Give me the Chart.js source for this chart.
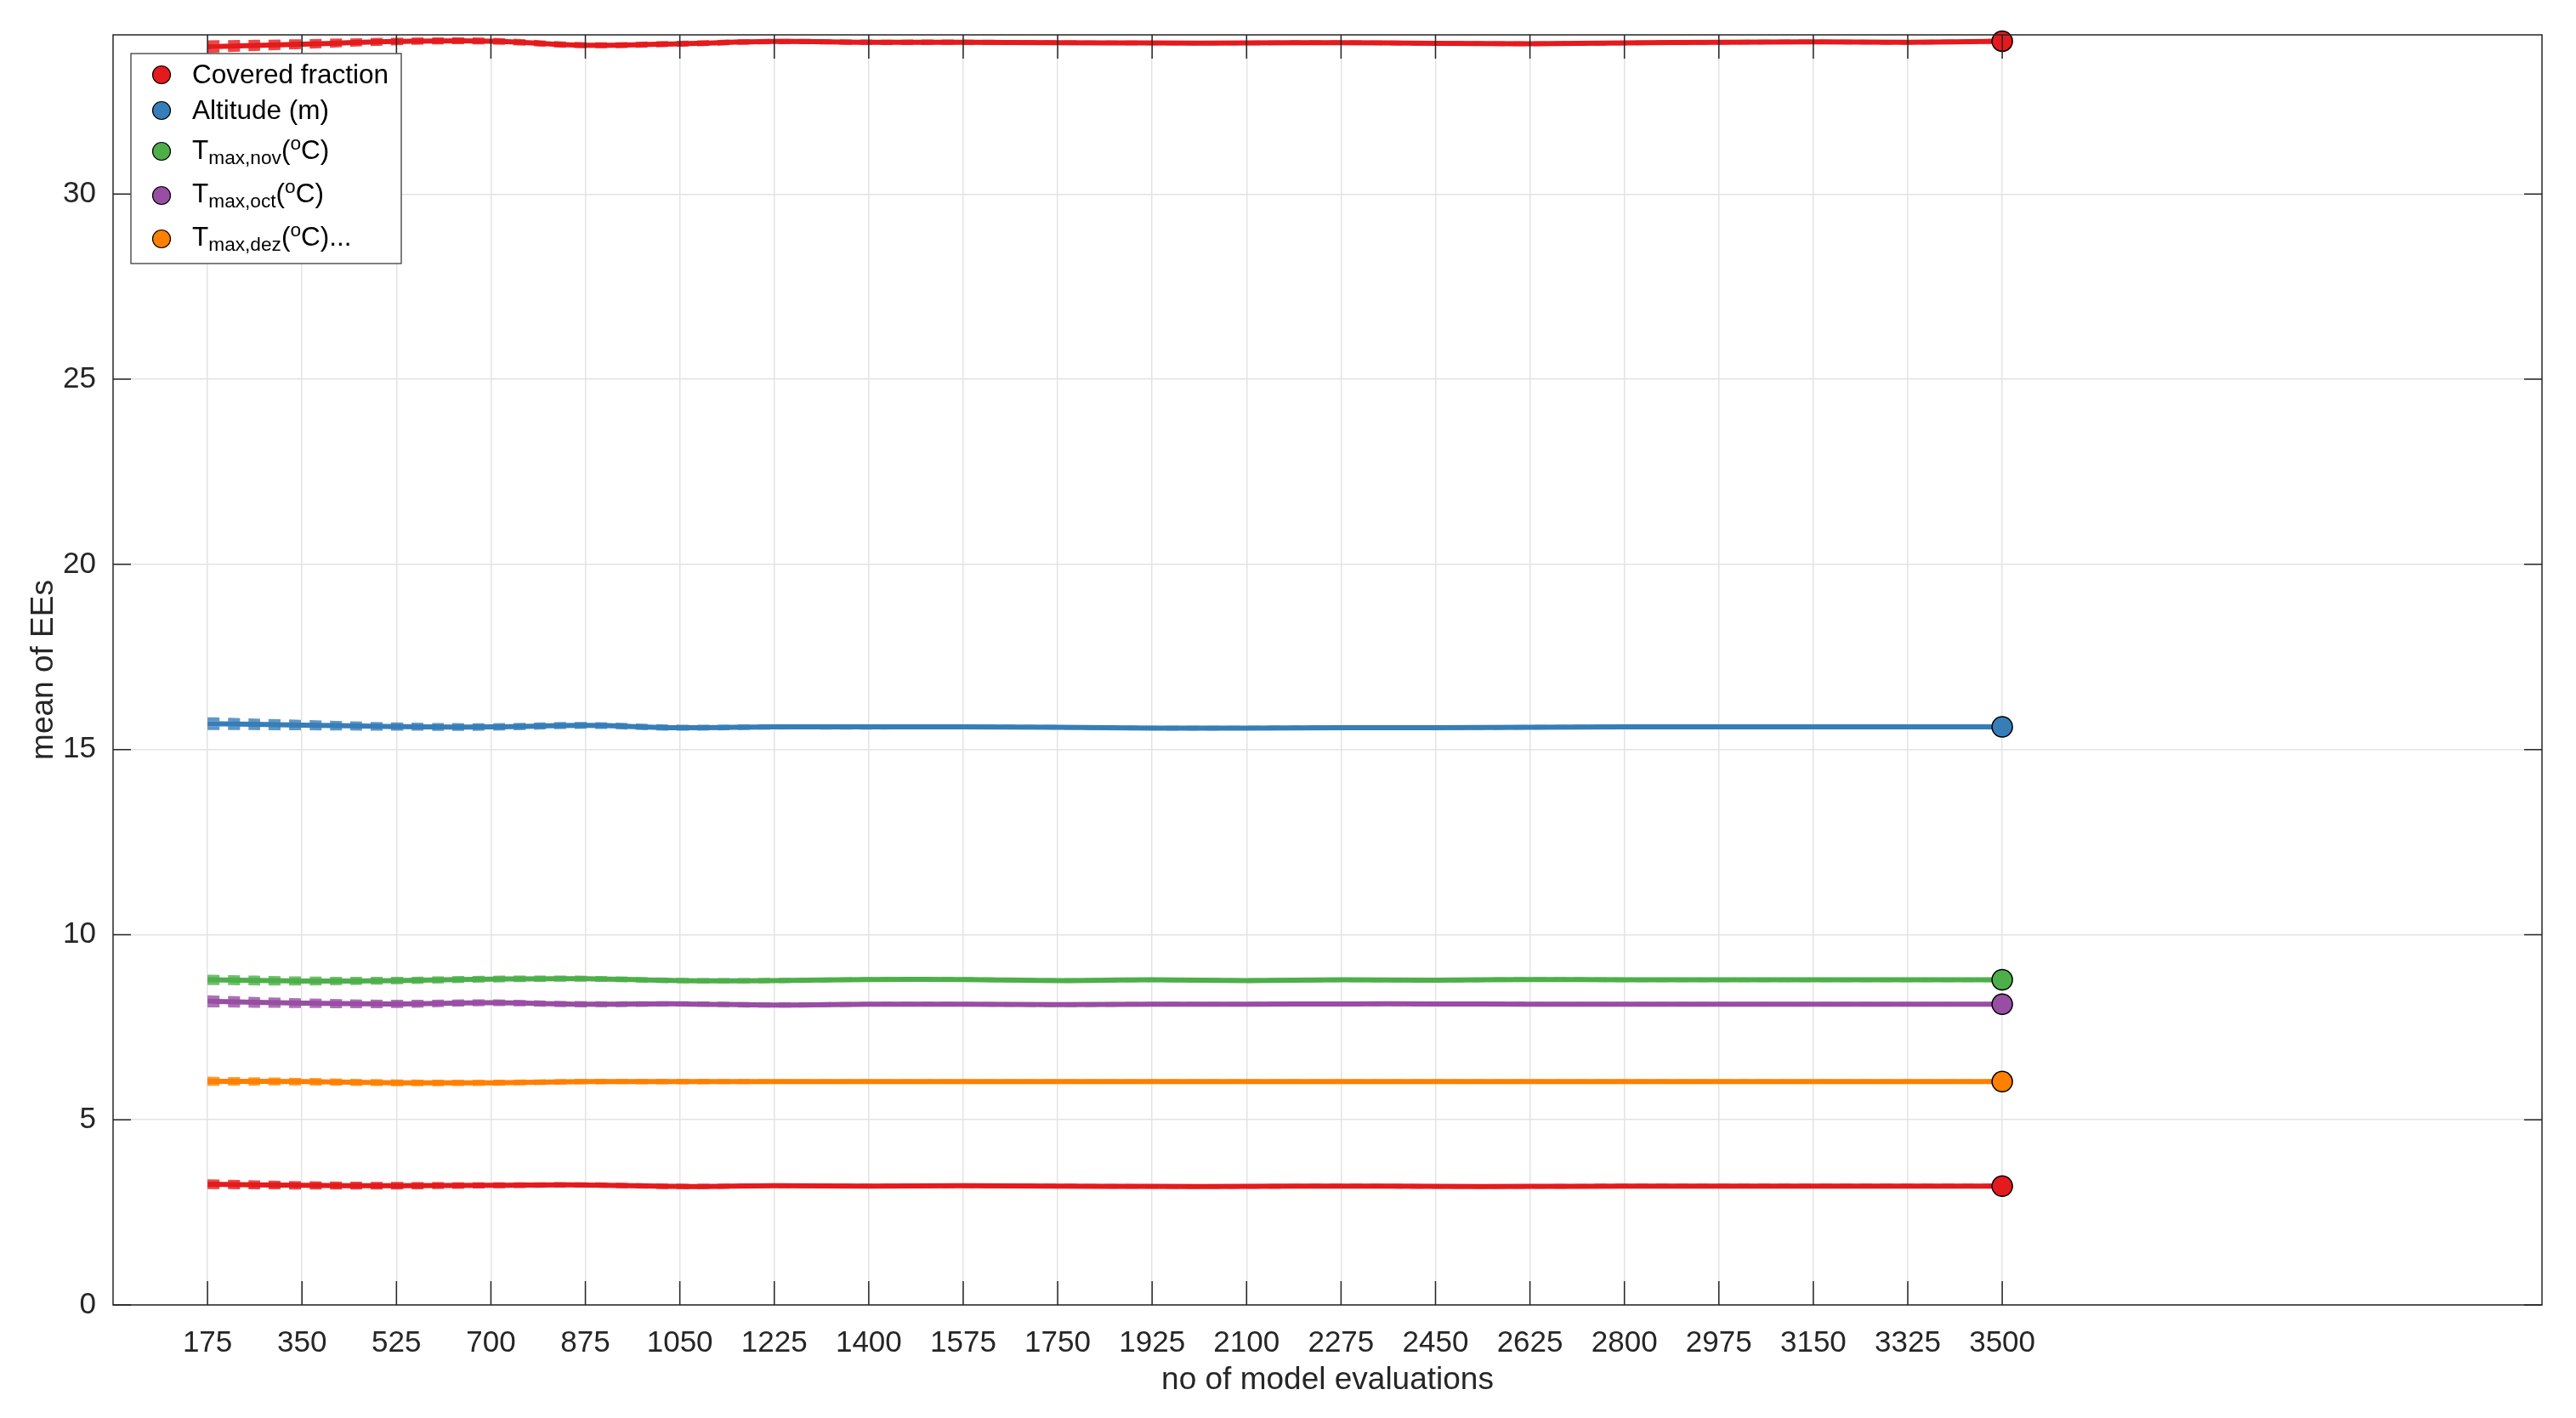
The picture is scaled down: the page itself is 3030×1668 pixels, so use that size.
<!DOCTYPE html>
<html>
<head>
<meta charset="utf-8">
<script src="https://cdn.jsdelivr.net/npm/chart.js@4.4.1/dist/chart.umd.min.js"></script>
<style>
	html, body { margin: 0; padding: 0; background: #fff; }
	#wrap { width: 3030px; height: 1668px; position: relative; }
</style>
</head>
<body>
<div id="wrap"><canvas id="eeChart"></canvas></div>
<script>
// number of model evaluations (x) and y tick values
const evals = [175, 350, 525, 700, 875, 1050, 1225, 1400, 1575, 1750, 1925, 2100, 2275, 2450, 2625, 2800, 2975, 3150, 3325, 3500];
const yTicks = [0, 5, 10, 15, 20, 25, 30];

// mean of EEs per factor
const coveredFraction = [33.98, 34.05, 34.12, 34.13, 34.02, 34.06, 34.12, 34.10, 34.10, 34.09, 34.08, 34.08, 34.09, 34.07, 34.06, 34.08, 34.10, 34.11, 34.10, 34.13];
const altitude = [15.70, 15.66, 15.62, 15.61, 15.65, 15.59, 15.61, 15.61, 15.61, 15.60, 15.58, 15.58, 15.59, 15.59, 15.60, 15.61, 15.61, 15.61, 15.61, 15.61];
const tmaxNov = [8.78, 8.75, 8.76, 8.80, 8.81, 8.76, 8.76, 8.79, 8.79, 8.76, 8.78, 8.76, 8.78, 8.77, 8.79, 8.78, 8.78, 8.78, 8.78, 8.78];
const tmaxOct = [8.20, 8.15, 8.13, 8.16, 8.12, 8.13, 8.10, 8.12, 8.12, 8.11, 8.12, 8.12, 8.13, 8.13, 8.12, 8.12, 8.12, 8.12, 8.12, 8.12];
const tmaxDez = [6.04, 6.03, 6.00, 6.00, 6.03, 6.03, 6.03, 6.03, 6.03, 6.03, 6.03, 6.03, 6.03, 6.03, 6.03, 6.03, 6.03, 6.03, 6.03, 6.03];
const factor6 = [3.26, 3.23, 3.22, 3.23, 3.24, 3.20, 3.22, 3.21, 3.22, 3.21, 3.20, 3.20, 3.21, 3.20, 3.20, 3.21, 3.21, 3.21, 3.21, 3.21];

// half width of the dashed bounds
const coveredSpread = [0.12, 0.08, 0.05, 0.04, 0.03, 0.03, 0.02, 0.02, 0.02, 0.01, 0.01, 0.01, 0.01, 0.01, 0.01, 0.01, 0.01, 0.01, 0.01, 0.01];
const altitudeSpread = [0.12, 0.09, 0.06, 0.05, 0.04, 0.03, 0.02, 0.02, 0.01, 0.01, 0.01, 0.01, 0.01, 0.01, 0.01, 0.01, 0.01, 0.01, 0.01, 0.01];
const novSpread = [0.09, 0.07, 0.05, 0.04, 0.03, 0.02, 0.02, 0.01, 0.01, 0.01, 0.01, 0.01, 0.01, 0.01, 0.01, 0.01, 0.01, 0.01, 0.01, 0.01];
const octSpread = [0.11, 0.08, 0.06, 0.04, 0.03, 0.02, 0.02, 0.01, 0.01, 0.01, 0.01, 0.01, 0.01, 0.01, 0.01, 0.01, 0.01, 0.01, 0.01, 0.01];
const dezSpread = [0.07, 0.05, 0.04, 0.03, 0.02, 0.02, 0.01, 0.01, 0.01, 0.01, 0.01, 0.01, 0.01, 0.01, 0.01, 0.01, 0.01, 0.01, 0.01, 0.01];
const f6Spread = [0.08, 0.06, 0.05, 0.03, 0.02, 0.02, 0.01, 0.01, 0.01, 0.01, 0.01, 0.01, 0.01, 0.01, 0.01, 0.01, 0.01, 0.01, 0.01, 0.01];

const legendLabels = ['Covered fraction', 'Altitude (m)', 'T_{max,nov}(^{o}C)', 'T_{max,oct}(^{o}C)', 'T_{max,dez}(^{o}C)...'];

const series = [
	{ label: legendLabels[0], data: coveredFraction, spread: coveredSpread, color: '#e41a1c' },
	{ label: legendLabels[1], data: altitude, spread: altitudeSpread, color: '#377eb8' },
	{ label: legendLabels[2], data: tmaxNov, spread: novSpread, color: '#4daf4a' },
	{ label: legendLabels[3], data: tmaxOct, spread: octSpread, color: '#984ea3' },
	{ label: legendLabels[4], data: tmaxDez, spread: dezSpread, color: '#ff7f00' },
	{ label: '', data: factor6, spread: f6Spread, color: '#e41a1c' }
];

function fade(hex, a) {
	const n = parseInt(hex.slice(1), 16);
	return 'rgba(' + (n >> 16) + ',' + ((n >> 8) & 255) + ',' + (n & 255) + ',' + a + ')';
}

const datasets = [];
series.forEach(s => {
	[-1, 1].forEach(sign => {
		datasets.push({
			label: '',
			bound: true,
			data: evals.map((x, i) => ({ x: x, y: s.data[i] + sign * s.spread[i] })),
			borderColor: fade(s.color, 0.8),
			borderWidth: 4.5,
			borderDash: [14, 10],
			pointRadius: 0,
			tension: 0.4,
			clip: false,
			order: 1
		});
	});
	datasets.push({
		label: s.label,
		legendColor: s.color,
		data: evals.map((x, i) => ({ x: x, y: s.data[i] })),
		borderColor: s.color,
		backgroundColor: s.color,
		borderWidth: 6,
		tension: 0.4,
		pointRadius: ctx => ctx.dataIndex === evals.length - 1 ? 12 : 0,
		pointBorderColor: '#000',
		pointBorderWidth: 1.5,
		pointBackgroundColor: s.color,
		clip: false,
		order: 0
	});
});

const axisColor = '#262626';

// draws a TeX-like string with _{sub} and ^{sup}
function drawRich(ctx, text, x, y, size) {
	const parts = [];
	const re = /([_^])\{([^}]*)\}|([^_^]+)/g;
	let m;
	while ((m = re.exec(text)) !== null) {
		if (m[3]) parts.push({ t: m[3], k: 'n' });
		else parts.push({ t: m[2], k: m[1] === '_' ? 'sub' : 'sup' });
	}
	parts.forEach(p => {
		let fs = size, dy = 0;
		if (p.k === 'sub') { fs = size * 0.72; dy = 6; }
		if (p.k === 'sup') { fs = size * 0.72; dy = -11; }
		ctx.font = fs + 'px "Liberation Sans", Arial, sans-serif';
		ctx.fillText(p.t, x, y + dy);
		x += ctx.measureText(p.t).width;
	});
}

const frameAndLegend = {
	id: 'frameAndLegend',
	afterDraw(chart) {
		const { ctx, chartArea: a, scales } = chart;
		ctx.save();
		ctx.strokeStyle = axisColor;
		ctx.lineWidth = 1.5;
		ctx.beginPath();
		ctx.rect(a.left, a.top, a.right - a.left, a.bottom - a.top);
		ctx.stroke();
		// inward tick marks on all four sides
		ctx.beginPath();
		evals.forEach(v => {
			const px = scales.x.getPixelForValue(v);
			ctx.moveTo(px, a.bottom); ctx.lineTo(px, a.bottom - 28);
			ctx.moveTo(px, a.top); ctx.lineTo(px, a.top + 28);
		});
		yTicks.forEach(v => {
			const py = scales.y.getPixelForValue(v);
			ctx.moveTo(a.left, py); ctx.lineTo(a.left + 21, py);
			ctx.moveTo(a.right, py); ctx.lineTo(a.right - 21, py);
		});
		ctx.stroke();

		// legend box
		const bx = a.left + 21, by = a.top + 22, bw = 318, bh = 247;
		ctx.fillStyle = '#fff';
		ctx.fillRect(bx, by, bw, bh);
		ctx.strokeStyle = '#555';
		ctx.lineWidth = 1.5;
		ctx.strokeRect(bx, by, bw, bh);
		const rowMid = [25, 67, 115, 167, 218];
		const rowBase = [35, 77, 124, 175, 226];
		const entries = chart.data.datasets.filter(d => !d.bound && d.label);
		entries.forEach((d, i) => {
			ctx.beginPath();
			ctx.arc(bx + 36, by + rowMid[i], 10.5, 0, Math.PI * 2);
			ctx.fillStyle = d.legendColor;
			ctx.fill();
			ctx.strokeStyle = '#000';
			ctx.lineWidth = 1.2;
			ctx.stroke();
			ctx.fillStyle = '#000';
			ctx.textBaseline = 'alphabetic';
			ctx.textAlign = 'left';
			drawRich(ctx, d.label, bx + 72, by + rowBase[i], 31.5);
		});
		ctx.restore();
	}
};

const font = { family: '"Liberation Sans", Arial, sans-serif' };

const eeChart = new Chart(document.getElementById('eeChart'), {
	type: 'line',
	data: { datasets: datasets },
	options: {
		responsive: true,
		maintainAspectRatio: false,
		devicePixelRatio: 1,
		animation: false,
		layout: { padding: { top: 38, right: 40, left: 0, bottom: 0 } },
		plugins: {
			legend: { display: false },
			tooltip: { enabled: false }
		},
		scales: {
			x: {
				type: 'linear',
				min: 0,
				max: 4500,
				afterBuildTicks: s => { s.ticks = evals.map(v => ({ value: v })); },
				afterFit: s => { s.height = 133; },
				ticks: {
					autoSkip: false,
					maxRotation: 0,
					padding: 24,
					color: axisColor,
					font: { ...font, size: 35 },
					callback: v => String(v)
				},
				grid: { color: '#e3e3e3', lineWidth: 1.5, drawTicks: false },
				border: { display: false },
				title: {
					display: true,
					text: 'no of model evaluations',
					color: axisColor,
					font: { ...font, size: 37 },
					padding: { top: 0, bottom: 22 }
				}
			},
			y: {
				type: 'linear',
				min: 0,
				max: 34.3,
				afterBuildTicks: s => { s.ticks = yTicks.map(v => ({ value: v })); },
				afterFit: s => { s.width = 133; },
				ticks: {
					padding: 20,
					color: axisColor,
					font: { ...font, size: 35 }
				},
				grid: { color: '#e3e3e3', lineWidth: 1.5, drawTicks: false },
				border: { display: false },
				title: {
					display: true,
					text: 'mean of EEs',
					color: axisColor,
					font: { ...font, size: 37 },
					padding: { top: 30, bottom: 0 }
				}
			}
		}
	},
	plugins: [frameAndLegend]
});
</script>
</body>
</html>
